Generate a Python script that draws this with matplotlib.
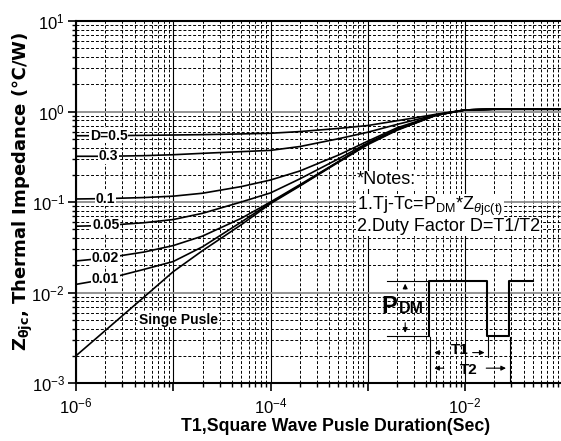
import numpy as np
import matplotlib
matplotlib.use('Agg')
import matplotlib.pyplot as plt

plt.rcParams['font.family'] = ['Liberation Sans', 'DejaVu Sans']
plt.rcParams['mathtext.fontset'] = 'custom'
plt.rcParams['mathtext.rm'] = 'Liberation Sans'
plt.rcParams['mathtext.it'] = 'Liberation Sans:italic'
plt.rcParams['mathtext.bf'] = 'Liberation Sans:bold'

####data#########################
t = [1e-6, 2e-6, 5e-6, 1e-5, 2e-5, 5e-5, 1e-4, 2e-4, 5e-4, 1e-3, 2e-3, 5e-3, 1e-2, 2e-2, 1e-1]
z_d05 = [0.54, 0.54, 0.545, 0.55, 0.555, 0.565, 0.575, 0.60, 0.65, 0.70, 0.79, 0.93, 1.04, 1.06, 1.06]
z_d03 = [0.32, 0.32, 0.325, 0.333, 0.345, 0.36, 0.372, 0.41, 0.50, 0.59, 0.72, 0.92, 1.04, 1.06, 1.06]
z_d01 = [0.108, 0.109, 0.112, 0.116, 0.125, 0.148, 0.175, 0.22, 0.33, 0.47, 0.66, 0.91, 1.04, 1.06, 1.06]
z_d005 = [0.054, 0.055, 0.059, 0.064, 0.075, 0.10, 0.126, 0.18, 0.30, 0.45, 0.64, 0.91, 1.04, 1.06, 1.06]
z_d002 = [0.0223, 0.024, 0.028, 0.033, 0.042, 0.066, 0.10, 0.155, 0.28, 0.44, 0.63, 0.91, 1.04, 1.06, 1.06]
z_d001 = [0.0123, 0.014, 0.018, 0.022, 0.032, 0.060, 0.098, 0.152, 0.278, 0.44, 0.63, 0.91, 1.04, 1.06, 1.06]
z_single = [0.002, 0.0038, 0.0089, 0.017, 0.029, 0.056, 0.096, 0.15, 0.275, 0.43, 0.62, 0.905, 1.04, 1.06, 1.06]

curves = [z_d05, z_d03, z_d01, z_d005, z_d002, z_d001, z_single]
curve_labels = ['D=0.5', '0.3', '0.1', '0.05', '0.02', '0.01']
label_x = [2.17e-6, 2.15e-6, 2.0e-6, 2.02e-6, 2.0e-6, 2.0e-6]

xticks = [1e-6, 1e-5, 1e-4, 1e-3, 1e-2, 1e-1]
xticklabels = [r'$\mathregular{10^{-6}}$', '', r'$\mathregular{10^{-4}}$', '', r'$\mathregular{10^{-2}}$', '']
yticks = [1e-3, 1e-2, 1e-1, 1e0, 1e1]
yticklabels = [r'$\mathregular{10^{-3}}$', r'$\mathregular{10^{-2}}$', r'$\mathregular{10^{-1}}$',
               r'$\mathregular{10^{0}}$', r'$\mathregular{10^{1}}$']

fig = plt.figure(figsize=(5.61, 4.41), dpi=100)
ax = fig.add_axes([76 / 561, 58 / 441, 486.25 / 561, 362 / 441])

for z in curves:
    ax.plot(t, z, color='black', lw=1.2, zorder=3)

ax.set_xscale('log')
ax.set_yscale('log')
ax.set_xlim(1e-6, 1e-1)
ax.set_ylim(1e-3, 1e1)

####grid######
ax.xaxis.grid(True, which='major', color='black', lw=0.8, ls='-')
ax.yaxis.grid(True, which='major', color='#8c8c8c', lw=1.3, ls='-')
ax.grid(True, which='minor', color='black', lw=0.7, ls=(0, (3, 2)))
ax.set_axisbelow(True)

ax.set_xticks(xticks)
ax.set_xticklabels(xticklabels, fontsize=12)
ax.set_yticks(yticks)
ax.set_yticklabels(yticklabels, fontsize=12)
ax.tick_params(which='major', direction='out', length=6, width=1.2, pad=2)
ax.tick_params(axis='x', which='major', pad=4)
ax.tick_params(which='minor', direction='out', length=3, width=1)
for s in ax.spines.values():
    s.set_linewidth(1.5)

ax.set_xlabel('T1,Square Wave Pusle Duration(Sec)', fontsize=12.7, fontweight='bold', va='center')
ax.xaxis.set_label_coords(0.533, -0.119)
ylab = ax.set_ylabel(r'Z$_{\mathbf{\theta jc}}$, Thermal Impedance (℃/W)', fontsize=13, fontweight='bold',
                     va='center', family='DejaVu Sans')
ylab.set_math_fontfamily('dejavusans')
ax.yaxis.set_label_coords(-0.11, 0.53)

####curve labels######
box = dict(facecolor='white', edgecolor='none', pad=0.5)
for lab, x, z in zip(curve_labels, label_x, curves):
    ax.text(x, z[1], lab, fontsize=10, fontweight='bold', ha='center', va='center', bbox=box, zorder=4)
ax.text(1.13e-5, 0.005, 'Singe Pusle', fontsize=10, fontweight='bold', ha='center', va='center', bbox=box, zorder=4)

####notes######
ax.text(0.578, 0.561, '*Notes:', transform=ax.transAxes, fontsize=13, va='center', bbox=box, zorder=4)
ax.text(0.578, 0.487, r'1.Tj-Tc=P$_{\rm DM}$*Z$_{\theta\rm jc(t)}$', transform=ax.transAxes,
        fontsize=13, va='center', bbox=box, zorder=4)
ax.text(0.578, 0.432, '2.Duty Factor D=T1/T2', transform=ax.transAxes, fontsize=13, va='center', bbox=box, zorder=4)

####pulse sketch######
tr = ax.transAxes
ax.plot([0.725, 0.725, 0.845, 0.845, 0.891, 0.891, 0.940],
        [0.131, 0.282, 0.282, 0.131, 0.131, 0.282, 0.282], color='black', lw=1.5, transform=tr, zorder=4)
ax.plot([0.639, 0.725], [0.282, 0.282], color='black', lw=0.8, transform=tr, zorder=4)
ax.plot([0.639, 0.725], [0.131, 0.131], color='black', lw=0.8, transform=tr, zorder=4)
ax.plot([0.729, 0.729], [0.128, 0.0], color='black', lw=0.8, transform=tr, zorder=4)
ax.plot([0.848, 0.848], [0.128, 0.073], color='black', lw=0.8, transform=tr, zorder=4)
ax.plot([0.892, 0.892], [0.128, 0.0], color='black', lw=0.8, transform=tr, zorder=4)

arr = dict(arrowstyle='-|>', color='black', lw=0.8, mutation_scale=7)
for start, end in [((0.677, 0.252), (0.677, 0.282)), ((0.677, 0.174), (0.677, 0.131)),
                   ((0.755, 0.084), (0.731, 0.084)), ((0.810, 0.084), (0.846, 0.084)),
                   ((0.762, 0.041), (0.731, 0.041)), ((0.838, 0.041), (0.890, 0.041))]:
    ax.annotate('', xy=end, xytext=start, xycoords=tr, textcoords=tr, arrowprops=arr, zorder=4)

ax.text(0.629, 0.193, 'P', transform=tr, fontsize=17, fontweight='bold', va='baseline', zorder=4)
ax.text(0.663, 0.193, 'DM', transform=tr, fontsize=11.5, fontweight='bold', va='baseline', zorder=4)
ax.text(0.790, 0.091, 'T1', transform=tr, fontsize=11, fontweight='bold', ha='center', va='center', zorder=4)
ax.text(0.807, 0.036, 'T2', transform=tr, fontsize=11, fontweight='bold', ha='center', va='center', zorder=4)

plt.savefig('out.png', dpi=100)
